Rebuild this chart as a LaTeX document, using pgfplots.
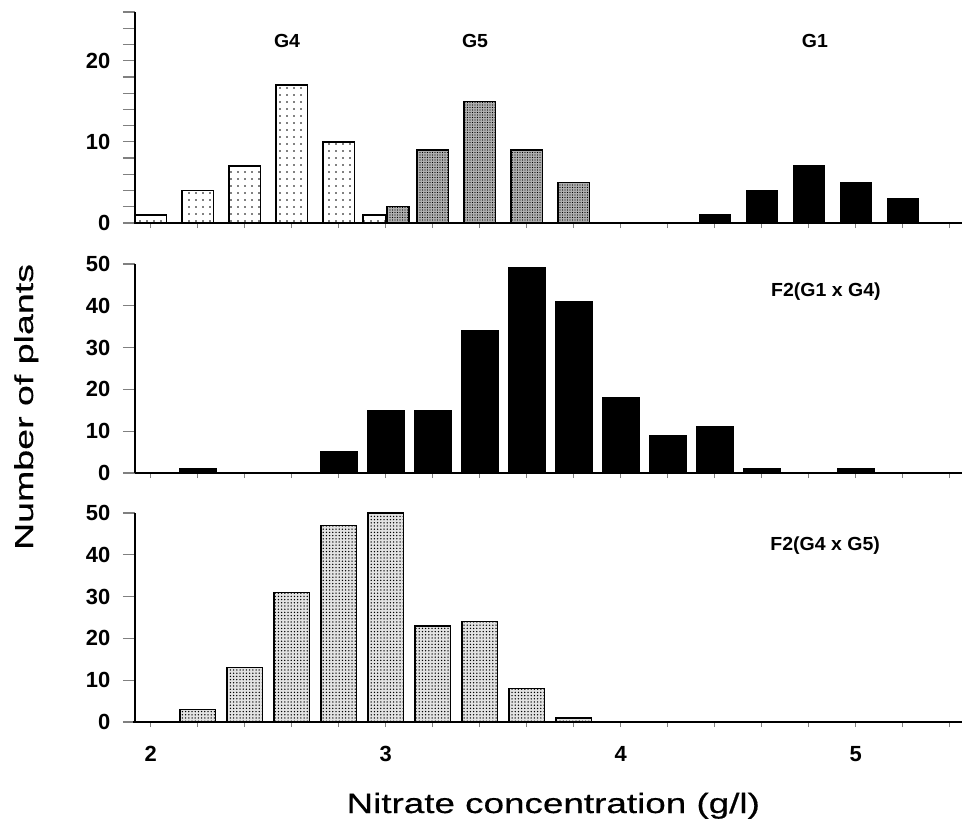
\documentclass[border=0pt]{standalone}
\usepackage{fontspec}
\setmainfont{Liberation Sans}
\usepackage{pgfplots}
\pgfplotsset{compat=1.18}
\usetikzlibrary{patterns.meta}
\newfontfamily\tickf{Liberation Sans}
\newfontfamily\panelf{Liberation Sans}[FakeStretch=1.03]
\newfontfamily\xlabf{Liberation Sans}[FakeStretch=1.32, FakeBold=0.5]
\newfontfamily\ylabf{Liberation Sans}[FakeStretch=1.45, FakeBold=0.5]

\tikzset{plab/.style={font=\panelf\bfseries\fontsize{19}{21}\selectfont}}
\pgfplotsset{
  panel/.style={
    scale only axis, width=826.5bp,
    xmin=1.933, xmax=5.45, ymin=0,
    axis x line=bottom, axis y line=left,
    axis line style={-, line width=1.6bp},
    tick align=outside,
    xtick={2,3,4,5},
    minor xtick={2.2,2.4,2.6,2.8,3.2,3.4,3.6,3.8,4.2,4.4,4.6,4.8,5.2,5.4},
    xtick style={line width=1.3bp, /pgfplots/major tick length=5bp, /pgfplots/minor tick length=5bp},
    ytick style={line width=1.3bp, /pgfplots/major tick length=12bp, /pgfplots/minor tick length=12bp},
    /pgf/number format/assume math mode=true,
    ticklabel style={font=\tickf\bfseries\fontsize{22}{24}\selectfont},
    yticklabel style={xshift=-17bp},
    clip=false,
  },
  bars/.style={ybar, bar shift=0pt, draw=black, line width=1.4bp},
  g4/.style={bars, fill=white, postaction={pattern={Dots[distance=7bp, radius=0.8bp]}}},
  g5/.style={bars, fill=gray!62, postaction={pattern={Dots[distance=2.5bp, radius=0.6bp]}}},
  blk/.style={bars, fill=black},
  lt/.style={bars, fill=gray!22, postaction={pattern={Dots[distance=3.2bp, radius=0.75bp]}}},
}

\begin{document}
\begin{tikzpicture}
\path[use as bounding box] (0bp,0bp) rectangle (964bp,-830bp);

% top panel
\begin{axis}[panel, at={(135bp,-12bp)}, anchor=north west, height=211bp,
  ymax=26, ytick={0,10,20}, minor ytick={2,4,6,8,12,14,16,18,22,24,26},
  xticklabels={}]
\addplot[g4, bar width=0.135] coordinates {(2.0,1) (2.2,4) (2.4,7) (2.6,17) (2.8,10)};
\addplot[g4, bar width=0.097] coordinates {(2.952,1)};
\addplot[g5, bar width=0.095] coordinates {(3.052,2)};
\addplot[g5, bar width=0.133] coordinates {(3.2,9) (3.4,15) (3.6,9) (3.8,5)};
\addplot[blk, bar width=0.13] coordinates {(4.4,1) (4.6,4) (4.8,7) (5.0,5) (5.2,3)};
\node[plab] at (axis cs:2.58,22.4) {G4};
\node[plab] at (axis cs:3.38,22.4) {G5};
\node[plab] at (axis cs:4.826,22.4) {G1};
\end{axis}

% middle panel
\begin{axis}[panel, at={(135bp,-264bp)}, anchor=north west, height=209bp,
  ymax=50, ytick={0,10,20,30,40,50}, xticklabels={}]
\addplot[blk, bar width=0.155] coordinates {(2.2,1) (2.4,0) (2.6,0) (2.8,5) (3.0,15) (3.2,15) (3.4,34) (3.6,49) (3.8,41) (4.0,18) (4.2,9) (4.4,11) (4.6,1) (4.8,0) (5.0,1) (5.2,0)};
\node[plab] at (axis cs:4.873,43.4) {F2(G1 x G4)};
\end{axis}

% bottom panel
\begin{axis}[panel, at={(135bp,-513bp)}, anchor=north west, height=209bp,
  ymax=50, ytick={0,10,20,30,40,50},
  xticklabel style={anchor=base, yshift=-35bp},
  xlabel={Nitrate concentration (g/l)},
  xlabel style={font=\xlabf\fontsize{28}{30}\selectfont, at={(axis description cs:0.5,0)}, anchor=base, yshift=-91bp, xshift=5bp}]
\addplot[lt, bar width=0.15] coordinates {(2.0,0) (2.2,3) (2.4,13) (2.6,31) (2.8,47) (3.0,50) (3.2,23) (3.4,24) (3.6,8) (3.8,1)};
\node[plab] at (axis cs:4.87,42.1) {F2(G4 x G5)};
\end{axis}

\node[rotate=90, anchor=base, font=\ylabf\fontsize{26}{28}\selectfont] at (33bp,-407bp) {Number of plants};
\end{tikzpicture}
\end{document}
